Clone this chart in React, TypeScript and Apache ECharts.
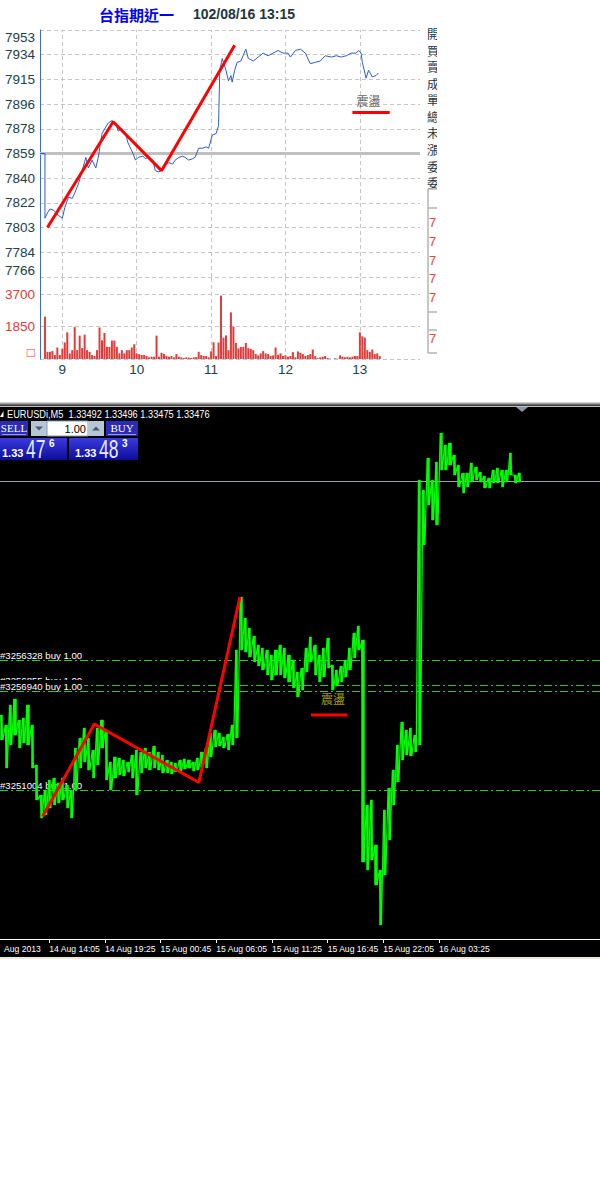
import React, { useEffect, useRef } from 'react';
import * as echarts from 'echarts';

// ================= Top chart: 台指期近一 =================
const topTitle = '台指期近一';
const topStamp = '102/08/16 13:15';
const topRefPrice = 7859; // reference (previous close) — gray line
const topStepTenths = 187; // price gap between gridlines = 18.7
const topHourTickMinutes = [0, 60, 120, 180, 240]; // minutes after 09:00
const topHourLabels = ['9', '10', '11', '12', '13'];
const topAxisMinMinute = -18;
const topAxisMaxMinute = 288.5;

const topPriceMinutes = [
  -18, -14, -14, -12, -10, -7, -3, 0, 2, 5, 8, 10, 13, 16, 19, 21, 24, 27, 29, 32,
  35, 37, 40, 43, 45, 48, 51, 53, 57, 59, 61, 65, 67, 69, 73, 75, 78, 81, 83, 86,
  89, 91, 94, 97, 99, 102, 105, 107, 110, 113, 116, 118, 121, 124, 126, 127, 129, 132, 134, 136,
  137, 139, 141, 144, 148, 150, 154, 158, 162, 166, 170, 174, 178, 182, 184, 188, 192, 196, 200, 204,
  208, 212, 217, 221, 225, 229, 233, 237, 239, 241, 242, 245, 247, 250, 253, 255,
];
const topPrices = [
  7859, 7859, 7810, 7814, 7817, 7816, 7812, 7810, 7818, 7826, 7825, 7829, 7836, 7846, 7856, 7848, 7854, 7848, 7856, 7874,
  7879, 7882, 7884, 7882, 7876, 7878, 7874, 7867, 7859, 7854, 7856, 7857, 7855, 7856, 7854, 7846, 7845, 7848, 7851, 7852,
  7851, 7854, 7856, 7857, 7856, 7854, 7855, 7856, 7863, 7863, 7864, 7863, 7873, 7874, 7880, 7922, 7931, 7922, 7914, 7918,
  7913, 7922, 7928, 7929, 7938, 7931, 7929, 7932, 7935, 7933, 7935, 7937, 7935, 7935, 7932, 7937, 7938, 7935, 7927, 7928,
  7929, 7933, 7932, 7933, 7932, 7933, 7935, 7935, 7937, 7935, 7928, 7916, 7922, 7917, 7918, 7920,
];

const topVolStartMinute = -14;
const topVolStepMinutes = 2;
const topVolumes = [
  2410, 410, 410, 450, 225, 650, 225, 580, 935, 1515,
  320, 505, 1815, 505, 1330, 620, 1385, 505, 410, 225,
  170, 505, 1795, 1065, 1480, 690, 690, 1050, 1050, 690,
  320, 505, 320, 505, 505, 655, 840, 320, 280, 225,
  225, 170, 95, 130, 130, 1330, 130, 355, 280, 170,
  130, 170, 95, 280, 130, 95, 60, 95, 75, 60,
  95, 110, 410, 225, 170, 170, 95, 430, 955, 170,
  935, 3610, 1215, 1345, 505, 2655, 1850, 915, 600, 690,
  690, 915, 620, 580, 505, 280, 205, 320, 450, 320,
  280, 170, 205, 655, 245, 320, 170, 205, 130, 170,
  390, 95, 430, 355, 280, 170, 225, 280, 540, 170,
  55, 95, 130, 170, 55, 20, 0, 40, 20, 205,
  130, 95, 130, 95, 130, 170, 170, 1515, 1290, 1215,
  505, 410, 540, 280, 320, 170,
];
const topVolMax = 4668;
const topVolInterval = 1850;

const topTrendMinutes = [-12, 41, 80, 139];
const topTrendPrices = [7803, 7883, 7846, 7941];
const topNoteText = '震盪';
const topNoteMinute = 247;
const topNotePrice = 7899;
const topNoteLineMinutes = [234, 264];
const topNoteLinePrice = 7890;

const sidePanelLabels = ['開', '買', '賣', '成', '單', '總', '未', '漲', '委', '委'];
const sidePanelDigits = ['7', '7', '7', '7', '7', '7'];

// ================= Bottom chart: EURUSDi,M5 =================
const symbolLine = 'EURUSDi,M5';
const quoteValues = ['1.33492', '1.33496', '1.33475', '1.33476'];
const lotText = '1.00';
const sellQuote = ['1.33', '47', '6'];
const buyQuote = ['1.33', '48', '3'];

// minutes after 14 Aug 2013 00:00 ; prices in points (1 point = 0.00001)
const bottomAxisMinMinute = 562;
const bottomAxisMaxMinute = 4010;
const bottomMinPoints = 132560;
const bottomMaxPoints = 133624;
const bottomTickMinutes = [845, 1165, 1485, 1805, 2125, 2445, 2765, 3085];
const bottomLabelMinutes = [562, 845, 1165, 1485, 1805, 2125, 2445, 2765, 3085];
const bottomTickLabels = [
  'Aug 2013', '14 Aug 14:05', '14 Aug 19:25', '15 Aug 00:45', '15 Aug 06:05',
  '15 Aug 11:25', '15 Aug 16:45', '15 Aug 22:05', '16 Aug 03:25',
];

const greenStartMinute = 573;
const greenStepMinutes = 25;
const greenHigh = [
  133008, 132988, 133028, 133040, 132998, 133002, 133028, 132988, 132908, 132848,
  132858, 132878, 132882, 132872, 132882, 132868, 132858, 132942, 132962, 132982,
  132962, 132938, 132982, 132998, 132978, 132914, 132924, 132922, 132918, 132914,
  132928, 132938, 132934, 132942, 132934, 132946, 132934, 132928, 132918, 132914,
  132912, 132918, 132920, 132918, 132914, 132922, 132934, 132942, 132972, 132978,
  132972, 132964, 132970, 132988, 133138, 133244, 133202, 133182, 133166, 133148,
  133142, 133138, 133128, 133138, 133148, 133142, 133128, 133118, 133094, 133102,
  133142, 133164, 133148, 133128, 133142, 133162, 133108, 133098, 133106, 133118,
  133142, 133172, 133186, 133158, 132828, 132838, 132748, 132698, 132818, 132862,
  132898, 132948, 132994, 132978, 132982, 132968, 133478, 133458, 133522, 133478,
  133514, 133572, 133548, 133552, 133528, 133508, 133492, 133492, 133512, 133504,
  133494, 133486, 133482, 133498, 133502, 133498, 133498, 133532, 133488, 133492,
];
const greenLow = [
  132958, 132902, 132948, 132968, 132942, 132952, 132948, 132902, 132838, 132802,
  132808, 132822, 132828, 132832, 132838, 132822, 132802, 132858, 132902, 132914,
  132898, 132882, 132908, 132942, 132878, 132858, 132882, 132888, 132886, 132894,
  132882, 132848, 132892, 132902, 132898, 132902, 132898, 132892, 132892, 132890,
  132894, 132894, 132900, 132902, 132896, 132898, 132904, 132902, 132924, 132944,
  132946, 132942, 132938, 132948, 132962, 133138, 133134, 133124, 133114, 133106,
  133098, 133088, 133078, 133088, 133088, 133082, 133074, 133062, 133044, 133058,
  133094, 133114, 133088, 133074, 133084, 133102, 133058, 133066, 133074, 133084,
  133098, 133122, 133138, 132714, 132698, 132718, 132668, 132588, 132688, 132758,
  132828, 132874, 132918, 132928, 132926, 132934, 132948, 133348, 133428, 133398,
  133388, 133498, 133498, 133508, 133488, 133464, 133452, 133464, 133474, 133478,
  133474, 133462, 133462, 133472, 133472, 133464, 133474, 133488, 133472, 133474,
];
const bidPoints = 133476;
const orderPoints = [133118, 133068, 133056, 132858];
const orderLabels = ['#3256328 buy 1.00', '#3256855 buy 1.00', '#3256940 buy 1.00', '#3251004 buy 1.00'];

const bottomTrendMinutes = [807, 1104, 1705, 1941];
const bottomTrendPoints = [132805, 132990, 132873, 133244];
const bottomNoteMinute = 2476;
const bottomNotePoints = 133042;
const bottomNoteLineMinutes = [2349, 2556];
const bottomNoteLinePoints = 133008;

// ================= fonts / colors =================
const SANS = '"Liberation Sans", Arial, sans-serif';
const SERIF = '"Liberation Serif", serif';
const CJK = '"Noto Sans CJK TC", "Noto Sans CJK SC", sans-serif';
const LABEL_DARK = '#22404f';
const GRID_GRAY = '#c6c6c6';
const RED = '#ff0000';
const GREEN = '#00ff00';

const norm = (p: number) => ((p - topRefPrice) * 10) / topStepTenths;

function txt(x: number, y: number, text: string, font: string, fill: string, align = 'left', vAlign = 'middle', z = 10, sx = 1) {
  return {
    type: 'text', x, y, z, silent: true, scaleX: sx,
    style: { text, font, fill, align, verticalAlign: vAlign, textAlign: align, textVerticalAlign: vAlign },
  };
}
function rect(x: number, y: number, w: number, h: number, fill: any, z = 5, stroke?: string) {
  return { type: 'rect', z, silent: true, shape: { x, y, width: w, height: h }, style: stroke ? { fill, stroke, lineWidth: 1 } : { fill } };
}
function seg(x1: number, y1: number, x2: number, y2: number, stroke: string, w = 1, z = 10) {
  return { type: 'line', z, silent: true, shape: { x1, y1, x2, y2 }, style: { stroke, lineWidth: w } };
}
function poly(points: number[][], fill: string, z = 10) {
  return { type: 'polygon', z, silent: true, shape: { points }, style: { fill } };
}

function buildOption() {
  const sideYs = [33, 50, 66, 83, 99, 116, 132, 149, 166, 182];
  const digitYs = [222, 241, 260, 278, 297, 338];
  const boxGrad = () =>
    new echarts.graphic.LinearGradient(0, 0, 0, 1, [
      { offset: 0, color: '#3a3ae0' },
      { offset: 1, color: '#0c0c9a' },
    ]);

  const graphics: any[] = [
    // top titles
    txt(99, 14, topTitle, `bold 15px ${CJK}`, '#0000ee'),
    txt(193, 14, topStamp, `bold 14px ${SANS}`, '#1d3642'),
    // side panel (clipped characters)
    ...sidePanelLabels.map((c, i) => txt(427, sideYs[i], c, `12px ${CJK}`, '#1d3642', 'left', 'middle', 10)),
    ...sidePanelDigits.map((c, i) => txt(429, digitYs[i], c, `13px ${SANS}`, '#e04848', 'left', 'middle', 10)),
    rect(437, 20, 163, 345, '#ffffff', 20),
    seg(428, 189, 428, 353, '#b4b4b4', 1.5, 21),
    seg(428, 189, 437, 189, '#b4b4b4', 1.5, 21),
    seg(428, 208, 437, 208, '#b4b4b4', 1.5, 21),
    seg(428, 312, 437, 312, '#b4b4b4', 1.5, 21),
    seg(428, 330, 437, 330, '#b4b4b4', 1.5, 21),
    seg(428, 353, 437, 353, '#b4b4b4', 1.5, 21),

    // bottom black panel
    rect(0, 402.5, 600, 2, '#a4a4a4', -10),
    rect(0, 404.5, 600, 553, '#000000', -10),
    rect(0, 405.8, 600, 1, '#ffffff', -9),
    rect(0, 957, 600, 2, '#ece9d8', -9),
    poly([[516, 407], [528, 407], [522, 412]], '#8a96a4', 10),
    poly([[0, 417], [3.5, 411], [3.5, 417]], '#ffffff', 10),
    txt(7, 414, `${symbolLine}  ${quoteValues.join(' ')}`, `11px ${SANS}`, '#ffffff', 'left', 'middle', 10, 0.84),

    // trading panel
    rect(0, 421, 28, 15, '#2b2bb4', 10),
    seg(2, 434.5, 26, 434.5, '#8f9cff', 1, 11),
    txt(14, 428, 'SELL', `11px ${SERIF}`, '#ffffff', 'center', 'middle', 12),
    rect(31, 421, 16, 15, '#b7c6d6', 10),
    poly([[35, 426.5], [43, 426.5], [39, 430.5]], '#4a5a70', 11),
    rect(47, 421, 41, 15, '#ffffff', 10, '#7f9db9'),
    txt(86, 428.5, lotText, `11px ${SANS}`, '#000000', 'right', 'middle', 12),
    rect(88, 421, 16, 15, '#b7c6d6', 10),
    poly([[92, 430.5], [100, 430.5], [96, 426.5]], '#4a5a70', 11),
    rect(106, 421, 32, 15, '#2b2bb4', 10),
    seg(108, 434.5, 136, 434.5, '#8f9cff', 1, 11),
    txt(122, 428, 'BUY', `11px ${SERIF}`, '#ffffff', 'center', 'middle', 12),

    rect(0, 438, 67, 22, boxGrad(), 10),
    rect(69, 438, 69, 22, boxGrad(), 10),
    txt(2, 453, sellQuote[0], `bold 11px ${SANS}`, '#ffffff', 'left', 'middle', 12),
    txt(26, 449, sellQuote[1], `25px ${SANS}`, '#e8ecff', 'left', 'middle', 12, 0.7),
    txt(49, 443, sellQuote[2], `bold 10px ${SANS}`, '#ffffff', 'left', 'middle', 12),
    txt(75, 453, buyQuote[0], `bold 11px ${SANS}`, '#ffffff', 'left', 'middle', 12),
    txt(99, 449, buyQuote[1], `25px ${SANS}`, '#e8ecff', 'left', 'middle', 12, 0.7),
    txt(122, 443, buyQuote[2], `bold 10px ${SANS}`, '#ffffff', 'left', 'middle', 12),
  ];

  const vGrid = topHourTickMinutes.map((m) => ({ xAxis: m }));
  const dashed = { type: [4, 3], color: GRID_GRAY, width: 1 };

  // green M5 bars: range bars plus a dense high/low zigzag for the jagged look
  const greenBars = greenHigh.map((h, i) => [greenStartMinute + greenStepMinutes * i, greenLow[i], h, greenLow[i], h]);
  const greenPath: number[][] = [];
  greenHigh.forEach((h, i) => {
    const t = greenStartMinute + greenStepMinutes * i;
    greenPath.push([t - greenStepMinutes / 4, h]);
    greenPath.push([t + greenStepMinutes / 4, greenLow[i]]);
  });

  return {
    animation: false,
    backgroundColor: 'transparent',
    graphic: { elements: graphics },
    grid: [
      { left: 40, top: 30, width: 380, height: 247 },
      { left: 40, top: 277, width: 380, height: 82 },
      { left: 0, top: 407, width: 600, height: 532 },
    ],
    xAxis: [
      { gridIndex: 0, type: 'value', min: topAxisMinMinute, max: topAxisMaxMinute, show: false },
      {
        gridIndex: 1, type: 'value', min: topAxisMinMinute, max: topAxisMaxMinute,
        axisLine: { show: false }, axisTick: { show: false }, splitLine: { show: false },
        axisLabel: {
          customValues: topHourTickMinutes,
          formatter: (v: number) => topHourLabels[topHourTickMinutes.indexOf(v)] ?? '',
          color: LABEL_DARK, fontSize: 13.5, fontFamily: SANS, margin: 3,
        },
      },
      {
        gridIndex: 2, type: 'value', min: bottomAxisMinMinute, max: bottomAxisMaxMinute,
        axisLine: { show: true, onZero: false, lineStyle: { color: '#ffffff', width: 1 } },
        axisTick: { show: true, customValues: bottomTickMinutes, length: 4, lineStyle: { color: '#ffffff' } },
        splitLine: { show: false },
        axisLabel: {
          customValues: bottomLabelMinutes,
          formatter: (v: number) => {
            const i = bottomLabelMinutes.indexOf(v);
            if (i < 0) return '';
            return i === 0 ? `{f|${bottomTickLabels[0]}}` : bottomTickLabels[i];
          },
          rich: { f: { padding: [0, 0, 0, 4], color: '#ffffff', fontSize: 8.6, fontFamily: SANS } },
          align: 'left', color: '#ffffff', fontSize: 8.6, fontFamily: SANS, margin: 5,
        },
      },
    ],
    yAxis: [
      {
        gridIndex: 0, type: 'value', min: -5, max: 5, interval: 1,
        axisLine: { show: true, onZero: false, lineStyle: { color: '#3c6cc8', width: 1 } },
        axisTick: { show: false },
        axisLabel: {
          formatter: (v: number) => String(Math.round(topRefPrice + (v * topStepTenths) / 10)),
          color: LABEL_DARK, fontSize: 13.5, fontFamily: SANS, margin: 5,
          verticalAlignMaxLabel: 'top', verticalAlignMinLabel: 'bottom',
        },
        splitLine: { show: true, lineStyle: dashed },
      },
      {
        gridIndex: 1, type: 'value', min: 0, max: topVolMax, interval: topVolInterval,
        axisLine: { show: true, onZero: false, lineStyle: { color: '#3c6cc8', width: 1 } },
        axisTick: { show: false },
        axisLabel: {
          formatter: (v: number) => (v === 0 ? '□' : String(v)),
          color: '#e03c3c', fontSize: 13.5, fontFamily: SANS, margin: 5,
          showMaxLabel: false, verticalAlignMinLabel: 'bottom',
        },
        splitLine: { show: true, lineStyle: dashed },
      },
      { gridIndex: 2, type: 'value', min: bottomMinPoints, max: bottomMaxPoints, show: false },
    ],
    series: [
      // top price line
      {
        type: 'line', xAxisIndex: 0, yAxisIndex: 0, z: 3, silent: true,
        data: topPriceMinutes.map((m, i) => [m, norm(topPrices[i])]),
        symbol: 'none', lineStyle: { color: '#2f5fc0', width: 1 },
      },
      // top red trend lines (+ gridlines markLine)
      {
        type: 'line', xAxisIndex: 0, yAxisIndex: 0, z: 4, silent: true,
        data: topTrendMinutes.map((m, i) => [m, norm(topTrendPrices[i])]),
        symbol: 'none', lineStyle: { color: RED, width: 3 },
        markLine: {
          silent: true, z: 1, symbol: ['none', 'none'], label: { show: false },
          lineStyle: dashed,
          data: [
            ...vGrid,
            { yAxis: 0, lineStyle: { color: '#c0c0c0', width: 3, type: 'solid' } },
          ],
        },
      },
      {
        type: 'line', xAxisIndex: 0, yAxisIndex: 0, z: 4, silent: true,
        data: topNoteLineMinutes.map((m) => [m, norm(topNoteLinePrice)]),
        symbol: 'none', lineStyle: { color: RED, width: 3 },
      },
      {
        type: 'scatter', xAxisIndex: 0, yAxisIndex: 0, z: 4, silent: true,
        data: [[topNoteMinute, norm(topNotePrice)]], symbolSize: 1,
        itemStyle: { color: 'transparent' },
        label: { show: true, position: 'inside', formatter: topNoteText, color: '#3a3a3a', fontSize: 12, fontFamily: CJK },
      },
      // volume bars
      {
        type: 'bar', xAxisIndex: 1, yAxisIndex: 1, z: 3, silent: true,
        data: topVolumes.map((v, i) => [topVolStartMinute + topVolStepMinutes * i, v]),
        barWidth: 2, itemStyle: { color: '#e03c3c' },
        markLine: {
          silent: true, z: 1, symbol: ['none', 'none'], label: { show: false },
          lineStyle: dashed, data: vGrid,
        },
      },
      // bottom: green price bars
      {
        type: 'candlestick', xAxisIndex: 2, yAxisIndex: 2, z: 3, silent: true,
        data: greenBars, barWidth: 2.6,
        itemStyle: { color: GREEN, color0: GREEN, borderColor: GREEN, borderColor0: GREEN, borderWidth: 0.5 },
      },
      {
        type: 'line', xAxisIndex: 2, yAxisIndex: 2, z: 3, silent: true,
        data: greenPath, symbol: 'none',
        lineStyle: { color: GREEN, width: 1.2 },
      },
      // bottom red trend lines (+ order & bid lines)
      {
        type: 'line', xAxisIndex: 2, yAxisIndex: 2, z: 4, silent: true,
        data: bottomTrendMinutes.map((m, i) => [m, bottomTrendPoints[i]]),
        symbol: 'none', lineStyle: { color: RED, width: 3 },
        markLine: {
          silent: true, z: 1, symbol: ['none', 'none'],
          data: [
            [
              { coord: [bottomAxisMinMinute, bidPoints], lineStyle: { color: '#9aa4ae', width: 1, type: 'solid' }, label: { show: false } },
              { coord: [bottomAxisMaxMinute, bidPoints] },
            ],
            ...orderPoints.map((p, i) => [
              {
                coord: [bottomAxisMinMinute, p],
                lineStyle: { color: '#2ec82e', width: 1, type: [8, 3, 2, 3] },
                label: {
                  show: true, position: 'insideStartTop', formatter: orderLabels[i], distance: 0,
                  color: '#ffffff', fontSize: 9.6, fontFamily: SANS, backgroundColor: '#000000', padding: [1, 2, 0, 0],
                },
              },
              { coord: [bottomAxisMaxMinute, p] },
            ]),
          ],
        },
      },
      {
        type: 'line', xAxisIndex: 2, yAxisIndex: 2, z: 4, silent: true,
        data: bottomNoteLineMinutes.map((m) => [m, bottomNoteLinePoints]),
        symbol: 'none', lineStyle: { color: RED, width: 3 },
      },
      {
        type: 'scatter', xAxisIndex: 2, yAxisIndex: 2, z: 4, silent: true,
        data: [[bottomNoteMinute, bottomNotePoints]], symbolSize: 1,
        itemStyle: { color: 'transparent' },
        label: { show: true, position: 'inside', formatter: topNoteText, color: '#d8c400', fontSize: 12, fontFamily: CJK },
      },
    ],
  };
}

export default function App() {
  const ref = useRef<HTMLDivElement>(null);
  useEffect(() => {
    if (!ref.current) return;
    const chart = echarts.init(ref.current, null, { renderer: 'svg' });
    chart.setOption(buildOption() as any);
    return () => chart.dispose();
  }, []);
  return (
    <div
      ref={ref}
      style={{ position: 'absolute', left: 0, top: 0, width: 600, height: 1200, background: '#ffffff' }}
    />
  );
}
